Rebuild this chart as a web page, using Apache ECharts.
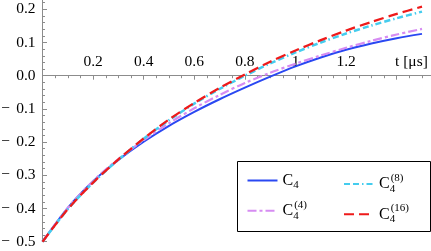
<!DOCTYPE html>
<html>
<head>
<meta charset="utf-8">
<script src="https://cdn.jsdelivr.net/npm/echarts@6/dist/echarts.min.js"></script>
<style>
html,body{margin:0;padding:0;background:#fff;}
#chart{width:431px;height:251px;}
</style>
</head>
<body>
<div id="chart"></div>
<script>
// ---- data ----
const tValues = [0, 0.1, 0.2, 0.3, 0.4, 0.5, 0.6, 0.7, 0.8, 0.9, 1.0, 1.1, 1.2, 1.3, 1.4, 1.5];
const c4     = [-0.5, -0.398, -0.318, -0.254, -0.199, -0.151, -0.109, -0.071, -0.036, -0.003, 0.028, 0.055, 0.078, 0.097, 0.113, 0.126];
const c4_4   = [-0.5, -0.398, -0.317, -0.251, -0.194, -0.143, -0.098, -0.058, -0.022, 0.009, 0.036, 0.061, 0.084, 0.105, 0.124, 0.141];
const c4_8   = [-0.5, -0.402, -0.322, -0.253, -0.190, -0.134, -0.084, -0.040, 0.000, 0.037, 0.070, 0.100, 0.127, 0.151, 0.173, 0.193];
const c4_16  = [-0.5, -0.402, -0.322, -0.252, -0.189, -0.132, -0.082, -0.037, 0.004, 0.042, 0.076, 0.107, 0.136, 0.162, 0.186, 0.208];
const seriesNames = ['C4', 'C4(4)', 'C4(8)', 'C4(16)'];
const seriesRich  = ['{c|C}{s|4}', '{c|C}{b|4}{p|(4)}', '{c|C}{b|4}{p|(8)}', '{c|C}{b|4}{p|(16)}'];
const xTickValues = [0.2, 0.4, 0.6, 0.8, 1.0, 1.2];
const xTickLabels = ['0.2', '0.4', '0.6', '0.8', '1', '1.2'];
const yTickValues = [-0.5, -0.4, -0.3, -0.2, -0.1, 0.0, 0.1, 0.2];
const yTickLabels = ['\u2212\u2009\u20090.5', '\u2212\u2009\u20090.4', '\u2212\u2009\u20090.3', '\u2212\u2009\u20090.2', '\u2212\u2009\u20090.1', '0.0', '0.1', '0.2'];
const xAxisTitle = 't [\u03bcs]';

const FONT = 'Liberation Serif';
const AX = '#8c8c8c';
function pick(vals, labels, v) {
  for (let i = 0; i < vals.length; i++) if (Math.abs(vals[i] - v) < 1e-6) return labels[i];
  return '';
}
function zip(ys) { return tValues.map((t, i) => [t, ys[i]]); }

const chart = echarts.init(document.getElementById('chart'), null, {renderer: 'canvas'});
const richStyle = {
  c: {fontFamily: FONT, fontSize: 16, color: '#000'},
  s: {fontFamily: FONT, fontSize: 11, color: '#000', padding: [10, 0, 0, 0]},
  b: {fontFamily: FONT, fontSize: 11, color: '#000', width: 1, padding: [10, 0, 0, 0]},
  p: {fontFamily: FONT, fontSize: 11, color: '#000', padding: [0, 0, 12, 0]}
};
function legendFmt(name) { return seriesRich[seriesNames.indexOf(name)]; }
const legendCommon = {
  orient: 'vertical', top: 172.5, padding: 0,
  itemWidth: 30, itemHeight: 14, itemGap: 8.3, z: 10, formatter: legendFmt,
  itemStyle: {opacity: 0},
  textStyle: {rich: richStyle}
};

const option = {
  animation: false,
  grid: {left: 42.5, right: -16.3, top: -23.9, bottom: 9.3, containLabel: false, outerBoundsMode: 'none'},
  xAxis: {
    type: 'value', min: 0, max: 1.6, interval: 0.2, position: 'bottom', offset: 0,
    axisLine: {onZero: false, lineStyle: {color: AX, width: 1}},
    axisTick: {show: true, length: 4, lineStyle: {color: AX}},
    minorTick: {show: true, splitNumber: 4, length: 2.5, lineStyle: {color: AX}},
    splitLine: {show: false}, minorSplitLine: {show: false},
    axisLabel: {inside: true, margin: 6, fontFamily: FONT, fontSize: 15.5, color: '#000',
      formatter: v => pick(xTickValues, xTickLabels, v)}
  },
  yAxis: {
    type: 'value', min: -0.5, max: 0.3, interval: 0.1,
    axisLine: {show: true, onZero: false, lineStyle: {color: AX, width: 1}},
    axisTick: {show: true, inside: true, length: 4.5, lineStyle: {color: AX}},
    minorTick: {show: true, splitNumber: 5, length: 2.5, lineStyle: {color: AX}},
    splitLine: {show: false}, minorSplitLine: {show: false},
    axisLabel: {margin: 7, fontFamily: FONT, fontSize: 15.5, color: '#000',
      formatter: v => pick(yTickValues, yTickLabels, v)}
  },
  legend: [
    Object.assign({data: ['C4', 'C4(4)'], left: 246.5}, legendCommon),
    Object.assign({data: ['C4(8)', 'C4(16)'], left: 343}, legendCommon)
  ],
  graphic: [
    {type: 'rect', z: 5, shape: {x: 237.5, y: 161.5, width: 193, height: 70},
     style: {fill: '#fff', stroke: '#000', lineWidth: 1}},
    {type: 'text', z: 5, x: 395, y: 62,
     style: {text: xAxisTitle, font: '15.5px "' + FONT + '"', fill: '#000', textVerticalAlign: 'middle'}}
  ],
  series: [
    {name: 'C4', type: 'line', data: zip(c4), showSymbol: false, symbol: 'none', smooth: 0.3,
     color: '#2a48f2', lineStyle: {color: '#2a48f2', width: 2}},
    {name: 'C4(4)', type: 'line', data: zip(c4_4), showSymbol: false, symbol: 'none', smooth: 0.3,
     color: '#d68cf2', lineStyle: {color: '#d68cf2', width: 2.2, type: [9, 3, 3, 3]}},
    {name: 'C4(8)', type: 'line', data: zip(c4_8), showSymbol: false, symbol: 'none', smooth: 0.3,
     color: '#44ccee', lineStyle: {color: '#44ccee', width: 2.5, type: [6, 3, 6, 3, 1.5, 3]}},
    {name: 'C4(16)', type: 'line', data: zip(c4_16), showSymbol: false, symbol: 'none', smooth: 0.3,
     color: '#ee1a1a', lineStyle: {color: '#ee1a1a', width: 2.3, type: [10, 5]}}
  ]
};
chart.setOption(option);
// move the x axis onto y = 0 (positions from the library's own scale)
const yZero = chart.convertToPixel({yAxisIndex: 0}, 0);
const yBottom = chart.convertToPixel({yAxisIndex: 0}, -0.5);
chart.setOption({xAxis: {offset: yZero - yBottom}});
</script>
</body>
</html>
